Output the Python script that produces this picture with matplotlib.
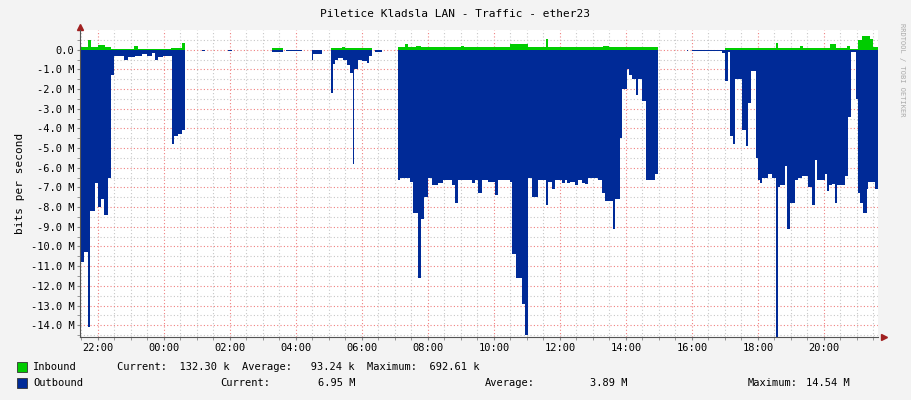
import matplotlib
matplotlib.use("Agg")
import matplotlib.pyplot as plt
import numpy as np

# hours since midnight of day 1 (24+ = next day), values in Mbit/s
out_t = [21.485, 21.586, 21.707, 21.768, 21.909, 22.010, 22.091, 22.192, 22.313, 22.394,
         22.495, 22.798, 22.919, 23.121, 23.323, 23.475, 23.626, 23.727, 23.828, 23.980,
         24.232, 24.313, 24.434, 24.535, 24.636, 25.14, 25.24, 25.95, 26.05, 27.26,
         27.62, 27.70, 28.17, 28.475, 28.525, 28.778, 29.06, 29.131, 29.182, 29.283,
         29.434, 29.535, 29.636, 29.717, 29.757, 29.889, 29.99, 30.141, 30.222, 30.293,
         30.394, 30.596, 31.101, 31.152, 31.455, 31.556, 31.707, 31.778, 31.879, 32.010,
         32.111, 32.313, 32.465, 32.717, 32.818, 32.919, 33.323, 33.424, 33.525, 33.576,
         33.626, 33.829, 34.031, 34.131, 34.485, 34.556, 34.667, 34.839, 34.94, 35.02,
         35.162, 35.344, 35.576, 35.647, 35.748, 35.849, 36.051, 36.152, 36.202, 36.303,
         36.455, 36.556, 36.657, 36.758, 36.859, 37.162, 37.263, 37.364, 37.596, 37.667,
         37.818, 37.889, 38.020, 38.101, 38.172, 38.303, 38.374, 38.475, 38.596, 38.879,
         38.98, 39.84, 39.889, 39.99, 40.697, 40.899, 41.0, 41.101, 41.152, 41.232,
         41.303, 41.505, 41.636, 41.707, 41.778, 41.939, 42.01, 42.06, 42.111, 42.313,
         42.414, 42.545, 42.596, 42.667, 42.818, 42.889, 42.97, 43.121, 43.222, 43.323,
         43.525, 43.626, 43.727, 43.798, 44.03, 44.08, 44.162, 44.232, 44.333, 44.404,
         44.636, 44.737, 44.808, 44.97, 45.04, 45.09, 45.192, 45.293, 45.343, 45.545,
         45.626]
out_v = [-10.8, -10.3, -14.1, -8.2, -6.8, -8.0, -7.6, -8.4, -6.5, -1.3,
         -0.3, -0.5, -0.35, -0.3, -0.2, -0.3, -0.15, -0.5, -0.35, -0.3,
         -4.8, -4.4, -4.3, -4.1, 0.0, -0.05, 0.0, -0.05, 0.0, -0.1,
         0.0, -0.05, 0.0, -0.5, -0.2, 0.0, -2.2, -0.75, -0.5, -0.4,
         -0.5, -0.8, -1.2, -5.8, -1.0, -0.5, -0.6, -0.7, -0.3, 0.0,
         -0.1, 0.0, -6.6, -6.5, -6.7, -8.3, -11.6, -8.6, -7.5, -6.5,
         -6.9, -6.8, -6.6, -6.9, -7.8, -6.6, -6.8, -6.6, -7.3, -7.3,
         -6.6, -6.7, -7.4, -6.6, -6.7, -10.4, -11.6, -12.9, -14.5, -6.5,
         -7.5, -6.6, -7.9, -6.7, -7.1, -6.6, -6.8, -6.6, -6.75, -6.7,
         -6.9, -6.6, -6.75, -6.85, -6.5, -6.6, -7.3, -7.7, -9.1, -7.6,
         -4.5, -2.0, -1.0, -1.3, -1.5, -2.3, -1.5, -2.6, -6.6, -6.3,
         0.0, -0.05, 0.0, -0.05, -0.05, -0.15, -1.6, -0.1, -4.4, -4.8,
         -1.5, -4.1, -4.9, -2.7, -1.1, -5.5, -6.6, -6.8, -6.5, -6.3,
         -6.5, -14.6, -7.0, -6.9, -5.9, -9.1, -7.8, -6.6, -6.5, -6.4,
         -7.0, -7.9, -5.6, -6.6, -6.3, -7.2, -6.9, -6.85, -7.8, -6.9,
         -6.4, -3.4, -0.1, -2.5, -7.3, -7.8, -8.3, -7.1, -6.7, -7.1,
         -7.1]

in_t = [21.485, 21.70, 21.78, 22.0, 22.2, 22.4, 23.1, 23.2, 24.2, 24.535,
        24.636, 27.26, 27.62, 29.06, 29.4, 29.5, 30.293, 31.101, 31.30, 31.40,
        31.65, 31.8, 33.0, 33.1, 34.49, 35.04, 35.576, 35.647, 37.3, 37.5,
        38.98, 41.0, 42.545, 42.596, 43.27, 43.37, 44.18, 44.38, 44.69, 44.79,
        45.04, 45.14, 45.39, 45.49, 45.626]
in_v = [0.15, 0.5, 0.15, 0.25, 0.15, 0.05, 0.2, 0.05, 0.08, 0.35,
        0.0, 0.08, 0.0, 0.1, 0.15, 0.1, 0.0, 0.15, 0.3, 0.15,
        0.2, 0.15, 0.2, 0.12, 0.3, 0.12, 0.55, 0.12, 0.2, 0.12,
        0.0, 0.1, 0.35, 0.1, 0.2, 0.1, 0.3, 0.1, 0.2, 0.05,
        0.5, 0.7, 0.55, 0.15, 0.15]

title = "Piletice Kladsla LAN - Traffic - ether23"
mono = "DejaVu Sans Mono"
c_in, c_out = "#00CC00", "#002A97"

fig = plt.figure(figsize=(9.11, 4.0), dpi=100, facecolor="#F3F3F3")
ax = fig.add_axes([80/911, 1-337/400, 798/911, 307/400])
ax.set_facecolor("white")

ax.fill_between(out_t, out_v, 0, step="post", color=c_out, lw=0)
ax.fill_between(in_t, in_v, 0, step="post", color=c_in, lw=0)

ax.set_xlim(21.455, 45.64)
ax.set_ylim(-14.6, 1.0)

yt = np.arange(0, -15, -1)
ax.set_yticks(yt)
ax.set_yticklabels(["0.0"] + ["%.1f M" % v for v in yt[1:]], family=mono, fontsize=7.5)
ax.set_yticks(np.arange(0.5, -14.6, -0.5), minor=True)
xt = np.arange(22, 46, 2)
ax.set_xticks(xt)
ax.set_xticklabels(["%02d:00" % (h % 24) for h in xt], family=mono, fontsize=7.5)
ax.set_xticks(np.arange(21.5, 45.7, 0.5), minor=True)
ax.tick_params(which="both", length=2, color="#888888", pad=2)

ax.grid(which="minor", color="#C8C8C8", ls=(0, (1, 2)), lw=0.8)
ax.grid(which="major", color="#F08080", ls=(0, (1, 2)), lw=0.8)
ax.set_axisbelow(True)
for s in ["top", "right"]:
    ax.spines[s].set_visible(False)
for s in ["left", "bottom"]:
    ax.spines[s].set_color("#555555")
ax.plot(1.008, 0, ">", color="#A02020", ms=4, transform=ax.transAxes, clip_on=False)
ax.plot(0, 1.01, "^", color="#A02020", ms=4, transform=ax.transAxes, clip_on=False)

ax.set_ylabel("bits per second", family=mono, fontsize=8)
fig.text(0.5, 1-14/400, title, ha="center", va="center", family=mono, fontsize=8)
fig.text(902/911, 1-70/400, "RRDTOOL / TOBI OETIKER", rotation=270, ha="center",
         va="center", family=mono, fontsize=5, color="#AAAAAA")

def row(y, color, name, parts):
    fig.patches.append(plt.Rectangle((17/911, 1-(y+5)/400), 10/911, 10/400,
                       transform=fig.transFigure, facecolor=color, edgecolor="#333333", lw=0.6))
    fig.text(33/911, 1-y/400, name, va="center", family=mono, fontsize=7.5)
    for x, s in parts:
        fig.text(x/911, 1-y/400, s, va="center", family=mono, fontsize=7.5)

row(367, c_in, "Inbound", [(117, "Current:  132.30 k  Average:   93.24 k  Maximum:  692.61 k")])
row(383, c_out, "Outbound", [(220, "Current:"), (318, "6.95 M"), (485, "Average:"),
                             (590, "3.89 M"), (748, "Maximum:"), (806, "14.54 M")])

fig.savefig("out.png", dpi=100, facecolor=fig.get_facecolor())
